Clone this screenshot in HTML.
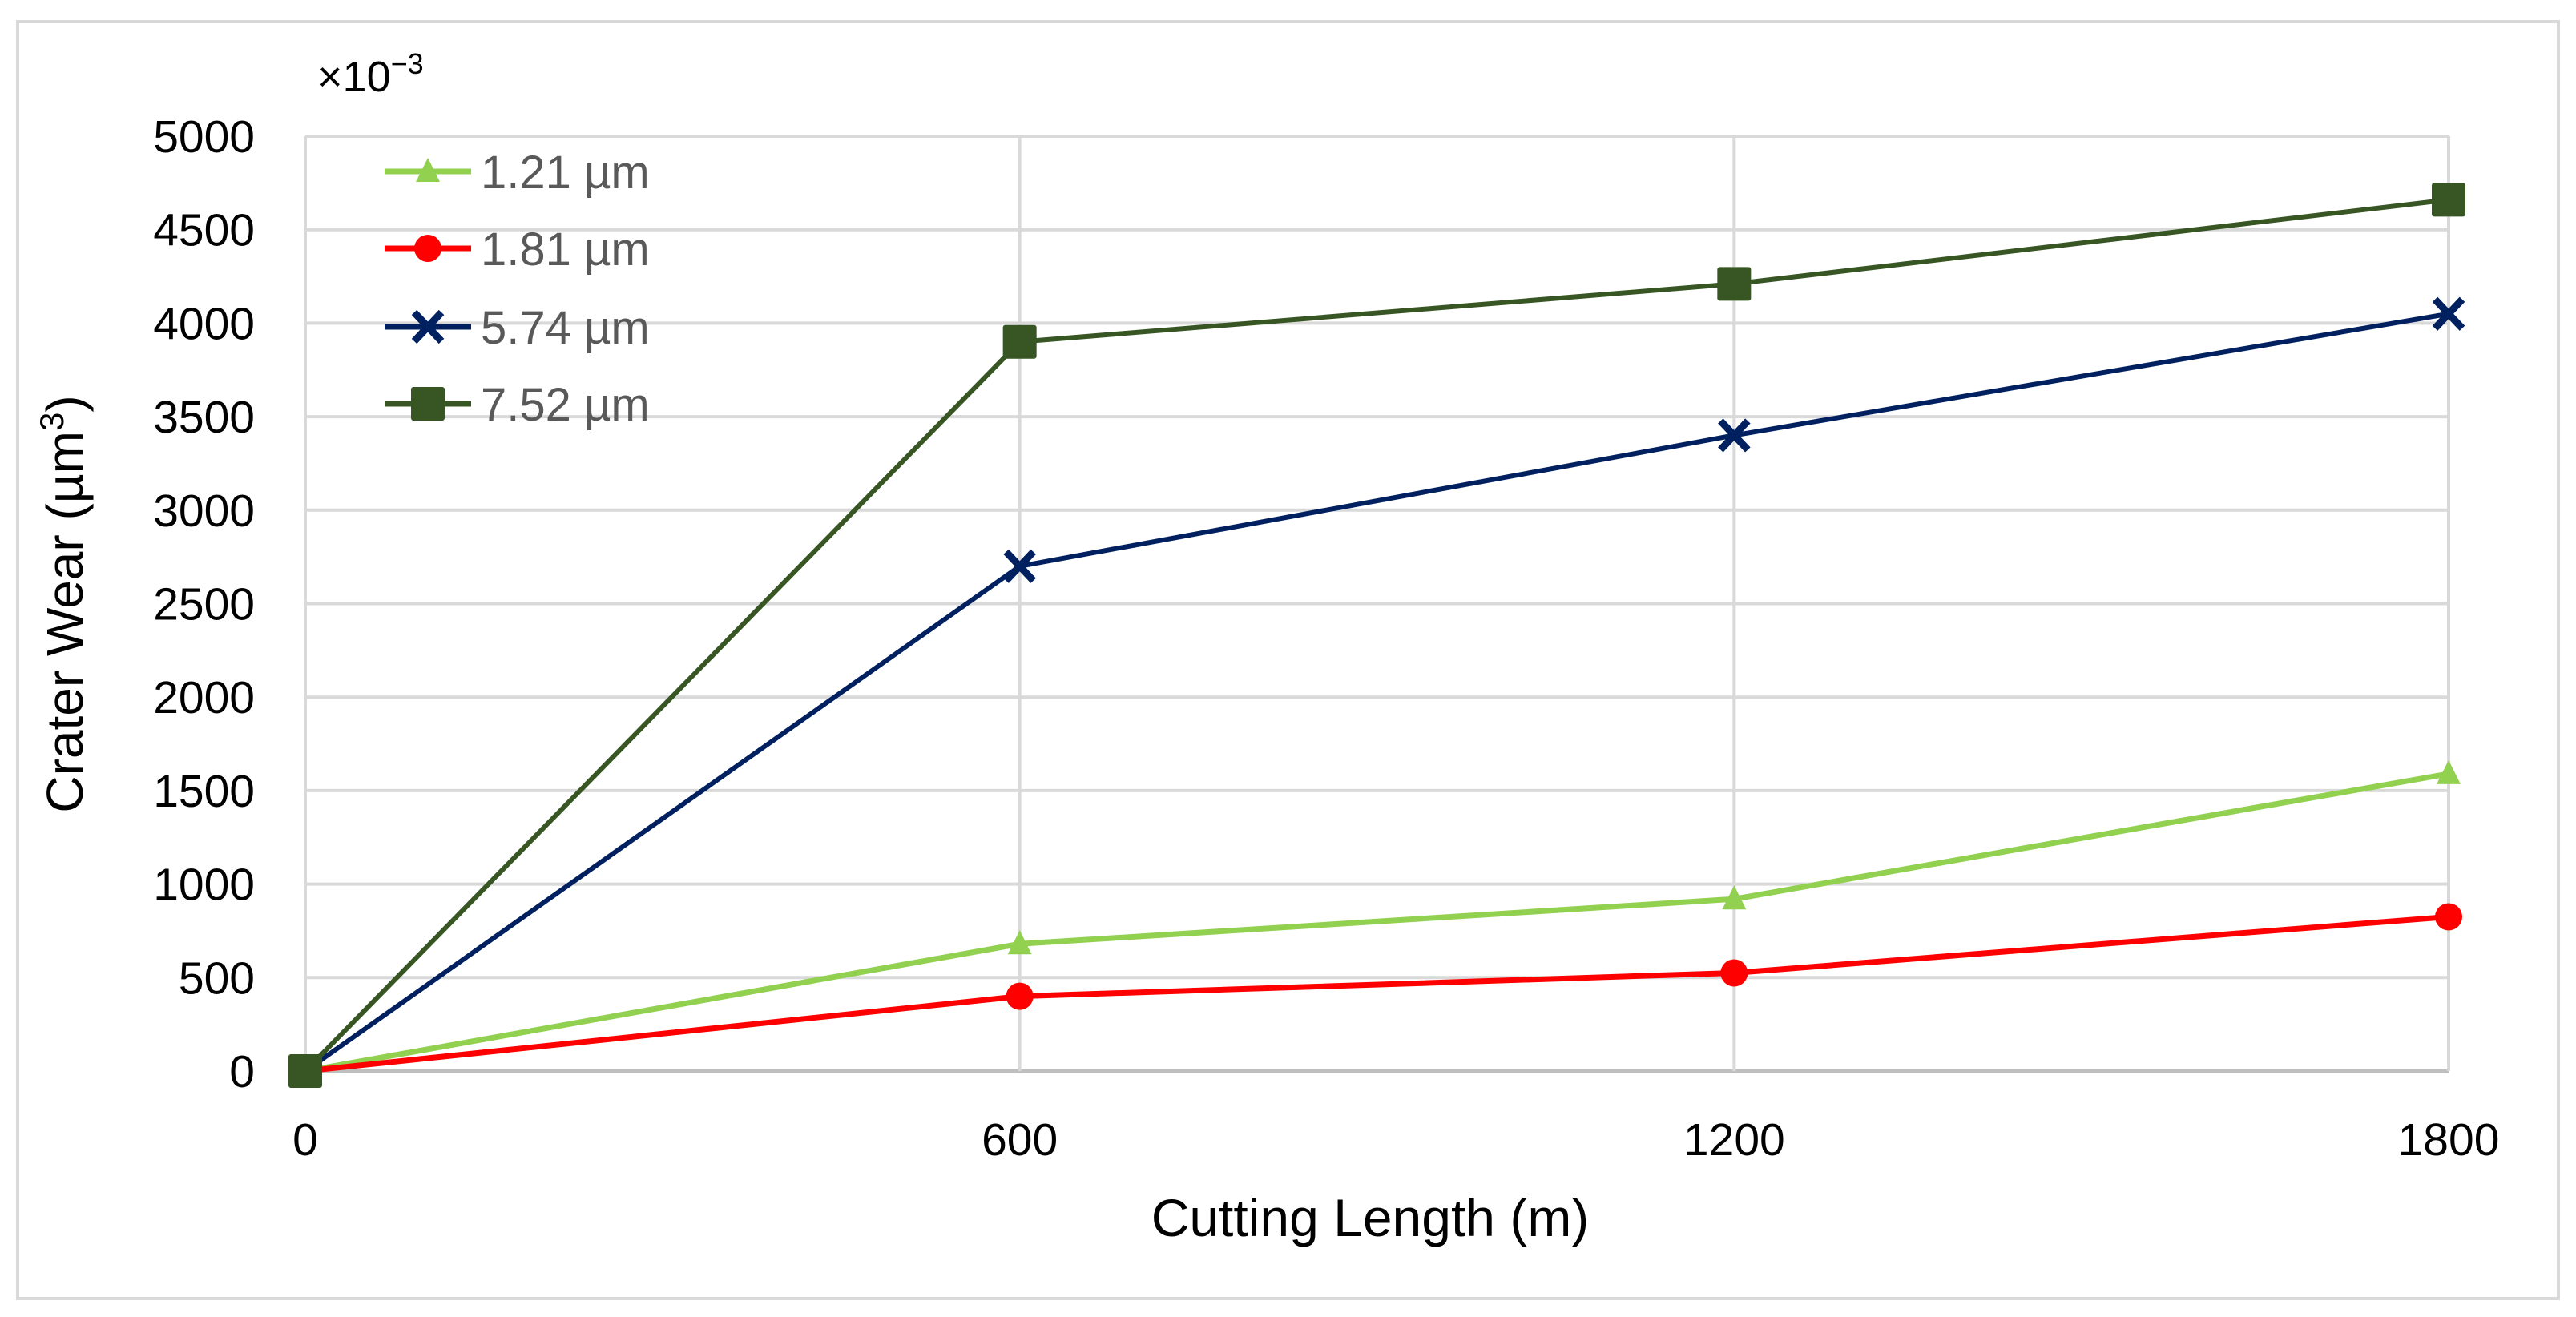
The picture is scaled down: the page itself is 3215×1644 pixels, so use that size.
<!DOCTYPE html>
<html><head><meta charset="utf-8"><style>
html,body{margin:0;padding:0;background:#fff;}
svg{display:block;font-family:"Liberation Sans Narrow","Liberation Sans",sans-serif;}
</style></head><body>
<svg id="chart" width="3215" height="1644" viewBox="0 0 3215 1644">
<rect x="22" y="27" width="3171" height="1594" fill="#fff" stroke="#d9d9d9" stroke-width="4"/>
<g id="grid"></g>
<g id="yticks"></g>
<g id="xticks"></g>
<g id="series"></g>
<g id="legend"></g>
<text x="396" y="114" font-size="54" fill="#000">×10<tspan dy="-22" font-size="36">−3</tspan></text>
<text transform="translate(103,754) rotate(-90)" text-anchor="middle" font-size="64" fill="#000">Crater Wear (µm<tspan dy="-24" font-size="42">3</tspan><tspan dy="24">)</tspan></text>
<text x="1710" y="1543" text-anchor="middle" font-size="66" fill="#000">Cutting Length (m)</text>
</svg>
<script>
const categories = [0, 600, 1200, 1800];
const yTicks = [0, 500, 1000, 1500, 2000, 2500, 3000, 3500, 4000, 4500, 5000];
const seriesNames = ["1.21 µm", "1.81 µm", "5.74 µm", "7.52 µm"];
const s121 = [0, 680, 920, 1590];
const s181 = [0, 400, 525, 825];
const s574 = [0, 2700, 3400, 4050];
const s752 = [0, 3900, 4210, 4660];

const NS = "http://www.w3.org/2000/svg";
const X0 = 381, X1 = 3056, Y0 = 1337, Y1 = 170;
function xs(v){ return X0 + (v - 0) / (1800 - 0) * (X1 - X0); }
function ys(v){ return Y0 - v / 5000 * (Y0 - Y1); }
function mk(tag, attrs, parent){ const e = document.createElementNS(NS, tag); for (const k in attrs) e.setAttribute(k, attrs[k]); parent.appendChild(e); return e; }

const grid = document.getElementById('grid');
const yt = document.getElementById('yticks');
const xt = document.getElementById('xticks');
yTicks.forEach(v => {
  const l = mk('line', {x1: X0, x2: X1, y1: ys(v), y2: ys(v), stroke: v === 0 ? '#bfbfbf' : '#d9d9d9', 'stroke-width': 4}, grid);
  
  
  const t = mk('text', {x: 318, y: ys(v) + 20, 'text-anchor': 'end', 'font-size': 57, fill: '#000'}, yt);
  t.textContent = v;
  
  
});
categories.forEach(c => {
  const l = mk('line', {x1: xs(c), x2: xs(c), y1: Y1, y2: Y0, stroke: '#d9d9d9', 'stroke-width': 4}, grid);
  
  
  const t = mk('text', {x: xs(c), y: 1442, 'text-anchor': 'middle', 'font-size': 57, fill: '#000'}, xt);
  t.textContent = c;
  
  
});

const colors = ['#92d050', '#ff0000', '#002060', '#375623'];
const markers = ['triangle', 'circle', 'cross', 'square'];
const widths = [7, 7, 6, 6];
const allData = [s121, s181, s574, s752];

function marker(type, x, y, color, parent){
  let m;
  if (type === 'triangle') m = mk('polygon', {points: `${x},${y-17} ${x-15},${y+13} ${x+15},${y+13}`, fill: color}, parent);
  else if (type === 'circle') m = mk('circle', {cx: x, cy: y, r: 17, fill: color}, parent);
  else if (type === 'square') m = mk('rect', {x: x-21, y: y-21, width: 42, height: 42, rx: 3, fill: color}, parent);
  else m = mk('path', {d: `M${x-17},${y-18}L${x+17},${y+18}M${x+17},${y-18}L${x-17},${y+18}`, stroke: color, 'stroke-width': 9, fill: 'none'}, parent);
  return m;
}

const sg = document.getElementById('series');
allData.forEach((arr, i) => {
  const g = mk('g', {}, sg);
  
  
  const pl = mk('polyline', {points: arr.map((v, j) => xs(categories[j]) + ',' + ys(v)).join(' '), fill: 'none', stroke: colors[i], 'stroke-width': widths[i], 'stroke-linejoin': 'round'}, g);
  
  
  arr.forEach((v, j) => {
    const m = marker(markers[i], xs(categories[j]), ys(v), colors[i], g);
    
    
  });
});

const lg = document.getElementById('legend');
const legendY = [214, 310, 408, 504];
seriesNames.forEach((n, i) => {
  const g = mk('g', {}, lg);
  
  
  const l = mk('line', {x1: 480, x2: 588, y1: legendY[i], y2: legendY[i], stroke: colors[i], 'stroke-width': 7}, g);
  
  
  const m = marker(markers[i], 534, legendY[i], colors[i], g);
  
  
  const t = mk('text', {x: 600, y: legendY[i] + 21, 'font-size': 58, fill: '#595959'}, g);
  t.textContent = n;
  
  
});
</script>
</body></html>
